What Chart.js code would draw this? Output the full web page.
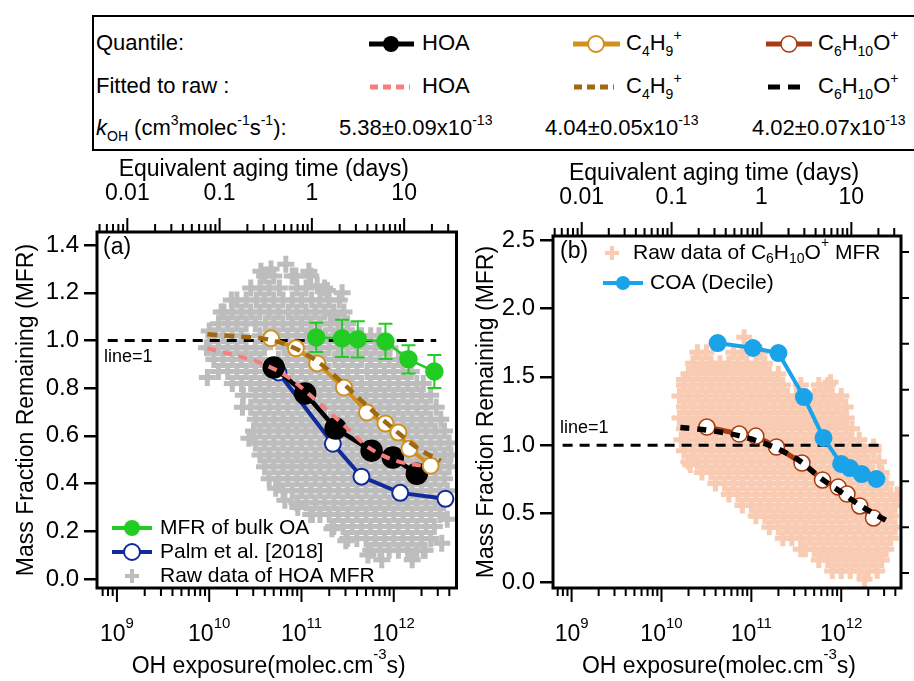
<!DOCTYPE html>
<html>
<head>
<meta charset="utf-8">
<script src="https://cdn.jsdelivr.net/npm/chart.js@4.4.1/dist/chart.umd.min.js"></script>
<style>
  body { margin: 0; width: 914px; height: 681px; overflow: hidden; position: relative; background: #fff;
         font-family: "Liberation Sans", Arial, sans-serif; color: #000; }
  canvas { position: absolute; }
  #legBox { position: absolute; left: 92px; top: 15px; width: 840px; height: 136px; border: 2.5px solid #000; box-sizing: border-box; }
  #legSvg { position: absolute; left: 0; top: 0; }
  .t { position: absolute; font-size: 22px; line-height: 24px; white-space: nowrap; }
  .t .sb { font-size: 14px; position: relative; top: 6px; }
  .t .sp { font-size: 14px; position: relative; top: -10px; }
</style>
</head>
<body>
<div id="legBox"></div>
<svg id="legSvg" width="914" height="160">
  <line x1="369" y1="44" x2="414" y2="44" stroke="#000" stroke-width="5"/>
  <circle cx="391" cy="44" r="8" fill="#000"/>
  <line x1="573" y1="44" x2="620" y2="44" stroke="#d2911e" stroke-width="5"/>
  <circle cx="596" cy="44" r="8" fill="#fff" stroke="#d2911e" stroke-width="2"/>
  <line x1="766" y1="44" x2="812" y2="44" stroke="#a83c10" stroke-width="5"/>
  <circle cx="789" cy="44" r="8" fill="#fff" stroke="#a83c10" stroke-width="1.5"/>
  <line x1="370" y1="87" x2="410" y2="87" stroke="#f57f7f" stroke-width="5" stroke-dasharray="8,5"/>
  <line x1="574" y1="87" x2="614" y2="87" stroke="#a0690f" stroke-width="5" stroke-dasharray="8,5"/>
  <line x1="768" y1="87" x2="802" y2="87" stroke="#000" stroke-width="5" stroke-dasharray="12,8"/>
</svg>
<div class="t" style="left:96px;top:31px">Quantile:</div>
<div class="t" style="left:422px;top:31px">HOA</div>
<div class="t" style="left:626px;top:31px">C<span class="sb">4</span>H<span class="sb">9</span><span class="sp">+</span></div>
<div class="t" style="left:818px;top:31px">C<span class="sb">6</span>H<span class="sb">10</span>O<span class="sp">+</span></div>
<div class="t" style="left:96px;top:74px">Fitted to raw :</div>
<div class="t" style="left:422px;top:74px">HOA</div>
<div class="t" style="left:626px;top:74px">C<span class="sb">4</span>H<span class="sb">9</span><span class="sp">+</span></div>
<div class="t" style="left:818px;top:74px">C<span class="sb">6</span>H<span class="sb">10</span>O<span class="sp">+</span></div>
<div class="t" style="left:96px;top:116px"><i>k</i><span class="sb">OH</span> (cm<span class="sp">3</span>molec<span class="sp">-1</span>s<span class="sp">-1</span>):</div>
<div class="t" style="left:339px;top:116px">5.38±0.09x10<span class="sp">-13</span></div>
<div class="t" style="left:545px;top:116px">4.04±0.05x10<span class="sp">-13</span></div>
<div class="t" style="left:752px;top:116px">4.02±0.07x10<span class="sp">-13</span></div>

<canvas id="cA" width="470" height="531" style="left:0;top:150px"></canvas>
<canvas id="cB" width="444" height="531" style="left:470px;top:150px"></canvas>

<script>
// OH exposures are kept as log10 values
const OH_PER_DAY = 1.5e6 * 86400;
const expTicks = [9, 10, 11, 12];
const dayTicks = [0.01, 0.1, 1, 10];

// panel (a)
const hoaQLog = [10.70, 11.04, 11.37, 11.76, 11.99, 12.25];
const hoaQ = [0.887, 0.778, 0.631, 0.538, 0.509, 0.441];
const c4QLog = [10.67, 10.94, 11.17, 11.46, 11.71, 11.91, 12.05, 12.17, 12.40];
const c4Q = [1.009, 0.967, 0.904, 0.803, 0.698, 0.652, 0.614, 0.546, 0.475];
const fitLogA = [9.98, 10.29, 10.57, 10.86, 11.16, 11.44, 11.73, 12.02, 12.30, 12.51];
const hoaFit = [0.967, 0.937, 0.904, 0.845, 0.748, 0.652, 0.551, 0.496, 0.475, 0.467];
const c4Fit = [1.026, 1.017, 1.009, 0.979, 0.916, 0.824, 0.719, 0.622, 0.538, 0.496];
const palmLog = [10.75, 11.34, 11.65, 12.07, 12.56];
const palm = [0.866, 0.567, 0.429, 0.361, 0.336];
const bulkLog = [11.16, 11.44, 11.61, 11.91, 12.16, 12.44];
const bulk = [1.013, 1.009, 1.005, 0.996, 0.921, 0.870];
const bulkErr = [0.061, 0.078, 0.076, 0.074, 0.059, 0.069];
const lineOneLogA = [8.90, 12.46];

const rawHoaRows = [
  [1.27, [10.60, 10.70, 10.90, 11.10]],
  [1.22, [10.45, 10.55, 10.65, 10.76, 10.95, 11.05, 11.25]],
  [1.17, [10.30, 10.40, 10.51, 10.60, 10.70, 10.80, 10.90, 11.00, 11.11, 11.20, 11.30, 11.41]],
  [1.12, [10.16, 10.25, 10.35, 10.45, 10.55, 10.65, 10.75, 10.86, 10.95, 11.05, 11.15, 11.25, 11.35, 11.46]],
  [1.07, [10.10, 10.20, 10.30, 10.40, 10.50, 10.61, 10.70, 10.80, 10.90, 11.00, 11.10, 11.20, 11.31, 11.40, 11.50]],
  [1.02, [10.05, 10.15, 10.25, 10.35, 10.55, 10.65, 10.75, 10.85, 10.95, 11.05, 11.15, 11.26, 11.35, 11.45, 11.55, 11.65, 11.75, 11.84]],
  [0.97, [10.00, 10.10, 10.20, 10.30, 10.40, 10.50, 10.60, 10.81, 10.90, 11.00, 11.10, 11.20, 11.30, 11.40, 11.50, 11.60, 11.70, 11.80, 11.90, 11.96]],
  [0.92, [10.05, 10.15, 10.25, 10.35, 10.45, 10.55, 10.75, 10.85, 10.95, 11.05, 11.15, 11.25, 11.36, 11.45, 11.55, 11.65, 11.75, 11.85, 11.95, 12.05, 12.11]],
  [0.87, [10.10, 10.20, 10.30, 10.40, 10.50, 10.60, 10.70, 10.80, 10.90, 11.00, 11.10, 11.20, 11.30, 11.40, 11.50, 11.60, 11.71, 11.80, 11.90, 12.00, 12.10, 12.19]],
  [0.82, [10.25, 10.35, 10.45, 10.55, 10.65, 10.75, 10.85, 10.95, 11.05, 11.15, 11.25, 11.35, 11.45, 11.55, 11.65, 11.75, 11.85, 11.95, 12.05, 12.15, 12.25, 12.32]],
  [0.77, [10.37, 10.50, 10.60, 10.70, 10.80, 10.90, 11.00, 11.10, 11.20, 11.30, 11.40, 11.50, 11.60, 11.70, 11.80, 11.90, 12.00, 12.10, 12.20, 12.30, 12.40]],
  [0.72, [10.45, 10.55, 10.65, 10.75, 10.85, 10.95, 11.05, 11.15, 11.25, 11.35, 11.45, 11.55, 11.65, 11.75, 11.85, 11.95, 12.05, 12.15, 12.25, 12.35, 12.46]],
  [0.67, [10.50, 10.60, 10.70, 10.80, 10.90, 11.00, 11.10, 11.20, 11.31, 11.40, 11.50, 11.60, 11.70, 11.80, 11.90, 12.00, 12.10, 12.20, 12.30, 12.40, 12.51]],
  [0.62, [10.48, 10.55, 10.65, 10.75, 10.85, 10.95, 11.05, 11.15, 11.25, 11.35, 11.45, 11.55, 11.65, 11.75, 11.85, 11.95, 12.05, 12.15, 12.25, 12.35, 12.45, 12.55]],
  [0.57, [10.50, 10.60, 10.70, 10.80, 10.90, 11.00, 11.10, 11.20, 11.30, 11.40, 11.50, 11.60, 11.70, 11.80, 11.90, 12.00, 12.10, 12.20, 12.30, 12.40, 12.50, 12.60]],
  [0.52, [10.55, 10.65, 10.75, 10.85, 10.95, 11.05, 11.15, 11.25, 11.35, 11.45, 11.55, 11.65, 11.75, 11.85, 11.95, 12.05, 12.15, 12.25, 12.35, 12.45, 12.55, 12.62]],
  [0.47, [10.60, 10.70, 10.80, 10.90, 11.00, 11.10, 11.20, 11.30, 11.40, 11.50, 11.60, 11.70, 11.80, 11.90, 12.00, 12.10, 12.20, 12.30, 12.40, 12.50, 12.60]],
  [0.42, [10.65, 10.75, 10.85, 10.95, 11.05, 11.15, 11.25, 11.35, 11.45, 11.55, 11.65, 11.75, 11.85, 11.95, 12.05, 12.15, 12.25, 12.35, 12.45, 12.55]],
  [0.37, [10.80, 10.90, 11.00, 11.10, 11.20, 11.30, 11.40, 11.50, 11.60, 11.70, 11.80, 11.90, 12.00, 12.10, 12.20, 12.30, 12.40, 12.50, 12.58]],
  [0.32, [10.95, 11.05, 11.15, 11.25, 11.35, 11.45, 11.55, 11.65, 11.75, 11.85, 11.95, 12.05, 12.15, 12.25, 12.35, 12.45, 12.54]],
  [0.27, [11.10, 11.20, 11.30, 11.40, 11.50, 11.60, 11.70, 11.80, 11.90, 12.00, 12.10, 12.20, 12.30, 12.40, 12.50]],
  [0.22, [11.35, 11.45, 11.55, 11.65, 11.75, 11.85, 11.95, 12.05, 12.15, 12.25, 12.35, 12.44]],
  [0.17, [11.50, 11.60, 11.70, 11.80, 11.90, 12.00, 12.10, 12.20, 12.30, 12.40]],
  [0.12, [11.75, 11.85, 11.95, 12.05, 12.15, 12.25, 12.32]]
];
const rawHoaExtra = [
  [9.97, 0.97], [10.00, 1.04], [10.13, 1.12], [10.24, 1.17], [9.98, 0.845], [10.36, 0.72], [10.43, 0.59],
  [10.56, 1.29], [10.67, 1.30], [10.83, 1.32], [10.94, 1.27], [11.08, 1.29], [11.17, 1.23], [11.28, 1.21],
  [11.44, 1.20], [11.35, 1.11], [10.72, 0.38], [10.82, 0.33], [10.96, 0.30], [11.12, 0.27], [11.33, 0.21],
  [11.48, 0.16], [11.72, 0.10], [11.87, 0.08], [12.20, 0.08], [12.34, 0.12], [12.52, 0.15], [12.58, 0.25]
];

// panel (b)
const coaLog = [10.625, 11.017, 11.301, 11.585, 11.803, 11.999, 12.097, 12.228, 12.391];
const coa = [1.747, 1.711, 1.674, 1.352, 1.053, 0.863, 0.833, 0.789, 0.753];
const c6QLog = [10.505, 10.865, 11.05, 11.279, 11.563, 11.792, 11.966, 12.064, 12.206, 12.359];
const c6Q = [1.133, 1.082, 1.067, 0.987, 0.870, 0.746, 0.694, 0.643, 0.556, 0.468];
const c6FitLog = [10.21, 10.51, 10.86, 11.27, 11.55, 11.79, 11.97, 12.21, 12.50];
const c6Fit = [1.13, 1.11, 1.07, 0.98, 0.88, 0.75, 0.67, 0.56, 0.45];
const lineOneLogB = [8.90, 12.49];
const rightTicksB = [0, 0.2, 0.4, 0.6, 0.8, 1.0, 1.2, 1.4];

const rawC6Rows = [
  [1.68, [10.40, 10.50, 10.80, 10.90, 11.10]],
  [1.60, [10.35, 10.45, 10.55, 10.65, 10.75, 10.85, 10.95, 11.05, 11.15]],
  [1.52, [10.30, 10.40, 10.50, 10.60, 10.70, 10.80, 10.90, 11.00, 11.10, 11.20, 11.30]],
  [1.44, [10.25, 10.35, 10.45, 10.55, 10.65, 10.75, 10.85, 10.95, 11.05, 11.15, 11.25, 11.35, 11.55, 11.75, 11.85]],
  [1.36, [10.20, 10.30, 10.40, 10.50, 10.60, 10.70, 10.80, 10.90, 11.00, 11.10, 11.20, 11.30, 11.40, 11.50, 11.60, 11.70, 11.80, 11.90, 12.00]],
  [1.28, [10.25, 10.35, 10.45, 10.55, 10.65, 10.75, 10.85, 10.95, 11.05, 11.15, 11.25, 11.35, 11.45, 11.55, 11.65, 11.75, 11.85, 11.95, 12.05]],
  [1.20, [10.20, 10.30, 10.40, 10.50, 10.60, 10.70, 10.80, 10.90, 11.00, 11.10, 11.20, 11.30, 11.40, 11.50, 11.60, 11.70, 11.80, 11.90, 12.00, 12.06]],
  [1.12, [10.25, 10.35, 10.45, 10.55, 10.65, 10.75, 10.85, 10.95, 11.05, 11.15, 11.25, 11.35, 11.45, 11.55, 11.65, 11.75, 11.85, 11.95, 12.05, 12.12]],
  [1.04, [10.22, 10.30, 10.40, 10.50, 10.60, 10.70, 10.80, 10.90, 11.00, 11.10, 11.20, 11.30, 11.40, 11.50, 11.60, 11.70, 11.80, 11.90, 12.00, 12.10, 12.20]],
  [0.96, [10.25, 10.35, 10.45, 10.55, 10.65, 10.75, 10.85, 10.95, 11.05, 11.15, 11.25, 11.35, 11.45, 11.55, 11.65, 11.75, 11.85, 11.95, 12.05, 12.15, 12.25, 12.36]],
  [0.88, [10.30, 10.40, 10.50, 10.60, 10.70, 10.80, 10.90, 11.00, 11.10, 11.20, 11.30, 11.40, 11.50, 11.60, 11.70, 11.80, 11.90, 12.00, 12.10, 12.20, 12.30, 12.42]],
  [0.80, [10.45, 10.55, 10.65, 10.75, 10.85, 10.95, 11.05, 11.15, 11.25, 11.35, 11.45, 11.55, 11.65, 11.75, 11.85, 11.95, 12.05, 12.15, 12.25, 12.35, 12.45]],
  [0.72, [10.60, 10.70, 10.80, 10.90, 11.00, 11.10, 11.20, 11.30, 11.40, 11.50, 11.60, 11.70, 11.80, 11.90, 12.00, 12.10, 12.20, 12.30, 12.40, 12.50]],
  [0.64, [10.75, 10.85, 10.95, 11.05, 11.15, 11.25, 11.35, 11.45, 11.55, 11.65, 11.75, 11.85, 11.95, 12.05, 12.15, 12.25, 12.35, 12.45, 12.55, 12.62]],
  [0.56, [10.90, 11.00, 11.10, 11.20, 11.30, 11.40, 11.50, 11.60, 11.70, 11.80, 11.90, 12.00, 12.10, 12.20, 12.30, 12.40, 12.50, 12.60]],
  [0.48, [11.05, 11.15, 11.25, 11.35, 11.45, 11.55, 11.65, 11.75, 11.85, 11.95, 12.05, 12.15, 12.25, 12.35, 12.45, 12.55]],
  [0.40, [11.20, 11.30, 11.40, 11.50, 11.60, 11.70, 11.80, 11.90, 12.00, 12.10, 12.20, 12.30, 12.40, 12.50, 12.60]],
  [0.32, [11.35, 11.45, 11.55, 11.65, 11.75, 11.85, 11.95, 12.05, 12.15, 12.25, 12.35, 12.45, 12.55]],
  [0.24, [11.55, 11.60, 11.70, 11.80, 11.90, 12.00, 12.10, 12.20, 12.30, 12.40, 12.50]],
  [0.16, [11.75, 11.85, 11.95, 12.05, 12.15, 12.25, 12.35, 12.45]],
  [0.08, [11.90, 12.00, 12.10, 12.20, 12.30, 12.40]]
];
const rawC6Extra = [[10.92, 1.79], [10.25, 1.48], [12.26, 0.02], [12.36, 0.99], [10.32, 0.855], [11.88, 1.46]];

const FONT = '"Liberation Sans", Arial, sans-serif';
Chart.defaults.font.family = FONT;
Chart.defaults.color = '#000';

const xy = (logs, ys) => logs.map((lx, i) => ({ x: Math.pow(10, lx), y: ys[i] }));
function rowsToPoints(rows, extra) {
  const pts = [];
  rows.forEach(([y, xs]) => xs.forEach(lx => pts.push({ x: Math.pow(10, lx), y: y })));
  extra.forEach(([lx, y]) => pts.push({ x: Math.pow(10, lx), y: y }));
  return pts;
}

// rich text: parts = [[text, kind]] kind 0 normal, 1 sup, -1 sub
function drawRich(ctx, parts, x, y, size, align, supShift) {
  const small = Math.round(size * 0.65);
  const up = supShift || size * 0.45;
  let w = 0;
  parts.forEach(([t, k]) => { ctx.font = (k ? small : size) + 'px ' + FONT; w += ctx.measureText(t).width; });
  let cx = align === 'center' ? x - w / 2 : x;
  ctx.textAlign = 'left';
  ctx.textBaseline = 'middle';
  parts.forEach(([t, k]) => {
    ctx.font = (k ? small : size) + 'px ' + FONT;
    ctx.fillText(t, cx, y + (k === 1 ? -up : k === -1 ? size * 0.3 : 0));
    cx += ctx.measureText(t).width;
  });
}

function logTickMarks(ctx, scale, edge, dir) {
  const lo = Math.floor(Math.log10(scale.min)), hi = Math.ceil(Math.log10(scale.max));
  for (let e = lo; e <= hi; e++) {
    for (let k = 1; k <= 9; k++) {
      const v = k * Math.pow(10, e);
      if (v < scale.min || v > scale.max) continue;
      const p = scale.getPixelForValue(v);
      ctx.moveTo(p, edge);
      ctx.lineTo(p, edge + dir * (k === 1 ? 13 : 7));
    }
  }
}

function panelPlugin(cfg) {
  return {
    id: 'panel' + cfg.tag,
    afterDatasetsDraw(chart) {
      if (!cfg.errLog) return;
      const ctx = chart.ctx, xs = chart.scales.x, ys = chart.scales.y;
      ctx.save();
      ctx.strokeStyle = cfg.errColor;
      ctx.lineWidth = 2;
      ctx.beginPath();
      cfg.errLog.forEach((lx, i) => {
        const px = xs.getPixelForValue(Math.pow(10, lx));
        const t = ys.getPixelForValue(cfg.errY[i] + cfg.err[i]);
        const b = ys.getPixelForValue(cfg.errY[i] - cfg.err[i]);
        ctx.moveTo(px, t); ctx.lineTo(px, b);
        ctx.moveTo(px - 7, t); ctx.lineTo(px + 7, t);
        ctx.moveTo(px - 7, b); ctx.lineTo(px + 7, b);
      });
      ctx.stroke();
      ctx.restore();
    },
    afterDraw(chart) {
      const ctx = chart.ctx, a = chart.chartArea;
      const xs = chart.scales.x, xt = chart.scales.xTop;
      ctx.save();
      ctx.fillStyle = '#000';
      ctx.strokeStyle = '#000';
      ctx.lineWidth = 3;
      ctx.strokeRect(a.left, a.top, a.right - a.left, a.bottom - a.top);
      ctx.lineWidth = 2;
      ctx.beginPath();
      logTickMarks(ctx, xs, a.bottom + 1, 1);
      logTickMarks(ctx, xt, a.top - 1, -1);
      if (cfg.rightTicks) {
        const yr = chart.scales.yR;
        cfg.rightTicks.forEach(v => {
          const p = yr.getPixelForValue(v);
          ctx.moveTo(a.right, p); ctx.lineTo(a.right + 8, p);
        });
      }
      ctx.stroke();

      // bottom decade labels
      expTicks.forEach(e => {
        const p = xs.getPixelForValue(Math.pow(10, e));
        drawRich(ctx, [['10', 0], [String(e), 1]], p, a.bottom + 47, 23, 'center', 11);
      });
      drawRich(ctx, [['OH exposure(molec.cm', 0], ['-3', 1], ['s)', 0]],
        (a.left + a.right) / 2 - 8, a.bottom + 79, 23, 'center', 12);
      // top day labels
      dayTicks.forEach(d => {
        const p = xt.getPixelForValue(d);
        drawRich(ctx, [[String(d), 0]], p, a.top - 38, 23, 'center');
      });
      drawRich(ctx, [['Equivalent aging time (days)', 0]], (a.left + a.right) / 2 - 13, a.top - 62, 23, 'center');

      // panel tag and line=1 label
      drawRich(ctx, [[cfg.tag, 0]], a.left + cfg.tagDx, a.top + cfg.tagDy, 23, 'left');
      drawRich(ctx, [['line=1', 0]], a.left + cfg.lineTxtDx, chart.scales.y.getPixelForValue(1) + cfg.lineTxtDy, 18, 'left');

      // in-panel legend
      cfg.legend.forEach(it => {
        const lx = a.left + it.dx, ly = a.top + it.dy;
        ctx.lineWidth = it.lw || 0;
        if (it.line) {
          ctx.strokeStyle = it.color;
          ctx.beginPath(); ctx.moveTo(lx - 20, ly); ctx.lineTo(lx + 20, ly); ctx.stroke();
        }
        if (it.marker === 'dot') {
          ctx.fillStyle = it.color;
          ctx.beginPath(); ctx.arc(lx, ly, it.r, 0, Math.PI * 2); ctx.fill();
        } else if (it.marker === 'ring') {
          ctx.fillStyle = '#fff'; ctx.strokeStyle = it.color; ctx.lineWidth = 2;
          ctx.beginPath(); ctx.arc(lx, ly, it.r, 0, Math.PI * 2); ctx.fill(); ctx.stroke();
        } else if (it.marker === 'cross') {
          ctx.strokeStyle = it.color; ctx.lineWidth = 4;
          ctx.beginPath();
          ctx.moveTo(lx - 7, ly); ctx.lineTo(lx + 7, ly);
          ctx.moveTo(lx, ly - 7); ctx.lineTo(lx, ly + 7);
          ctx.stroke();
        }
        ctx.fillStyle = '#000';
        drawRich(ctx, it.text, lx + it.tx, ly, 21, 'left');
      });
      ctx.restore();
    }
  };
}

function yAxis(min, max, step, width, titlePad) {
  return {
    type: 'linear', position: 'left', min: min, max: max,
    afterFit(s) { s.width = width; },
    border: { display: false },
    grid: { drawOnChartArea: false, drawTicks: true, tickLength: 13, color: '#000', lineWidth: 2.5 },
    ticks: { stepSize: step, includeBounds: false, padding: 5, font: { size: 24 }, color: '#000',
             callback: v => v.toFixed(1) },
    title: { display: true, text: 'Mass Fraction Remaining (MFR)', font: { size: 23 }, color: '#000',
             padding: { top: titlePad, bottom: 0 } }
  };
}

const baseOpts = {
  responsive: false, animation: false, devicePixelRatio: 1, events: [],
  plugins: { legend: { display: false }, tooltip: { enabled: false } }
};

const xRangeA = [8.784, 12.68];
const xRangeB = [8.793, 12.665];

new Chart(document.getElementById('cA'), {
  type: 'scatter',
  data: {
    datasets: [
      { label: 'Raw data of HOA MFR', data: rowsToPoints(rawHoaRows, rawHoaExtra), showLine: false,
        pointStyle: 'cross', pointRadius: 8.5, pointBorderWidth: 5, pointBorderColor: '#bdbdbd', borderColor: '#bdbdbd', order: 10 },
      { label: 'line=1', data: xy(lineOneLogA, [1, 1]), showLine: true, borderColor: '#000', borderWidth: 3,
        borderDash: [10, 7], pointRadius: 0, order: 9 },
      { label: 'Palm et al. [2018]', data: xy(palmLog, palm), showLine: true, borderColor: '#102a9c', borderWidth: 4,
        pointRadius: 8, pointBackgroundColor: '#fff', pointBorderColor: '#102a9c', pointBorderWidth: 2, order: 8 },
      { label: 'HOA quantile', data: xy(hoaQLog, hoaQ), showLine: true, borderColor: '#000', borderWidth: 4.5,
        pointRadius: 9, pointBackgroundColor: '#000', pointBorderColor: '#000', order: 7 },
      { label: 'HOA fitted', data: xy(fitLogA, hoaFit), showLine: true, borderColor: '#f57f7f', borderWidth: 4,
        borderDash: [9, 7], pointRadius: 0, cubicInterpolationMode: 'monotone', order: 6 },
      { label: 'C4H9+ quantile', data: xy(c4QLog, c4Q), showLine: true, borderColor: '#d2911e', borderWidth: 4,
        pointRadius: 8, pointBackgroundColor: '#fff', pointBorderColor: '#d2911e', pointBorderWidth: 2, order: 5 },
      { label: 'C4H9+ fitted', data: xy(fitLogA, c4Fit), showLine: true, borderColor: '#a0690f', borderWidth: 4.5,
        borderDash: [10, 7], pointRadius: 0, cubicInterpolationMode: 'monotone', order: 4 },
      { label: 'MFR of bulk OA', data: xy(bulkLog, bulk), showLine: true, borderColor: '#22cc22', borderWidth: 2.5,
        pointRadius: 8, pointBackgroundColor: '#22cc22', pointBorderColor: '#22cc22', order: 3 }
    ]
  },
  options: Object.assign({}, baseOpts, {
    layout: { padding: { left: 0, top: 82, right: 12, bottom: 93 } },
    scales: {
      x: { type: 'logarithmic', display: false, min: Math.pow(10, xRangeA[0]), max: Math.pow(10, xRangeA[1]) },
      xTop: { type: 'logarithmic', position: 'top', display: false,
              min: Math.pow(10, xRangeA[0]) / OH_PER_DAY, max: Math.pow(10, xRangeA[1]) / OH_PER_DAY },
      y: yAxis(-0.038, 1.455, 0.2, 97, 13)
    }
  }),
  plugins: [panelPlugin({
    tag: '(a)', tagDx: 6, tagDy: 16, lineTxtDx: 7, lineTxtDy: 17,
    errLog: bulkLog, errY: bulk, err: bulkErr, errColor: '#22cc22',
    legend: [
      { dx: 35, dy: 296, line: true, lw: 4, color: '#22cc22', marker: 'dot', r: 8, tx: 28, text: [['MFR of bulk OA', 0]] },
      { dx: 35, dy: 320, line: true, lw: 4, color: '#102a9c', marker: 'ring', r: 8, tx: 28, text: [['Palm et al. [2018]', 0]] },
      { dx: 35, dy: 344, color: '#bdbdbd', marker: 'cross', tx: 28, text: [['Raw data of HOA MFR', 0]] }
    ]
  })]
});

new Chart(document.getElementById('cB'), {
  type: 'scatter',
  data: {
    datasets: [
      { label: 'Raw data of C6H10O+ MFR', data: rowsToPoints(rawC6Rows, rawC6Extra), showLine: false,
        pointStyle: 'cross', pointRadius: 8, pointBorderWidth: 5, pointBorderColor: '#f8cbb2', borderColor: '#f8cbb2', order: 10 },
      { label: 'line=1', data: xy(lineOneLogB, [1, 1]), showLine: true, borderColor: '#000', borderWidth: 3,
        borderDash: [10, 7], pointRadius: 0, order: 9 },
      { label: 'C6H10O+ quantile', data: xy(c6QLog, c6Q), showLine: true, borderColor: '#a83c10', borderWidth: 5,
        pointRadius: 8, pointBackgroundColor: '#fff', pointBorderColor: '#a83c10', pointBorderWidth: 1.5, order: 8 },
      { label: 'C6H10O+ fitted', data: xy(c6FitLog, c6Fit), showLine: true, borderColor: '#000', borderWidth: 5.5,
        borderDash: [9, 8], pointRadius: 0, cubicInterpolationMode: 'monotone', order: 7 },
      { label: 'COA (Decile)', data: xy(coaLog, coa), showLine: true, borderColor: '#1aa3e8', borderWidth: 4,
        pointRadius: 7, pointBackgroundColor: '#1aa3e8', pointBorderColor: '#1aa3e8', order: 6 }
    ]
  },
  options: Object.assign({}, baseOpts, {
    layout: { padding: { left: 0, top: 86, right: 6, bottom: 93 } },
    scales: {
      x: { type: 'logarithmic', display: false, min: Math.pow(10, xRangeB[0]), max: Math.pow(10, xRangeB[1]) },
      xTop: { type: 'logarithmic', position: 'top', display: false,
              min: Math.pow(10, xRangeB[0]) / OH_PER_DAY, max: Math.pow(10, xRangeB[1]) / OH_PER_DAY },
      y: yAxis(-0.044, 2.53, 0.5, 83, 3),
      yR: { type: 'linear', position: 'right', display: false, min: -0.065, max: 1.47 }
    }
  }),
  plugins: [panelPlugin({
    tag: '(b)', tagDx: 7, tagDy: 16, lineTxtDx: 7, lineTxtDy: -17,
    rightTicks: rightTicksB,
    legend: [
      { dx: 59, dy: 17, color: '#f8cbb2', marker: 'cross', tx: 21,
        text: [['Raw data of C', 0], ['6', -1], ['H', 0], ['10', -1], ['O', 0], ['+', 1], [' MFR', 0]] },
      { dx: 70, dy: 47, line: true, lw: 4, color: '#1aa3e8', marker: 'dot', r: 7, tx: 27, text: [['COA (Decile)', 0]] }
    ]
  })]
});
</script>
</body>
</html>
